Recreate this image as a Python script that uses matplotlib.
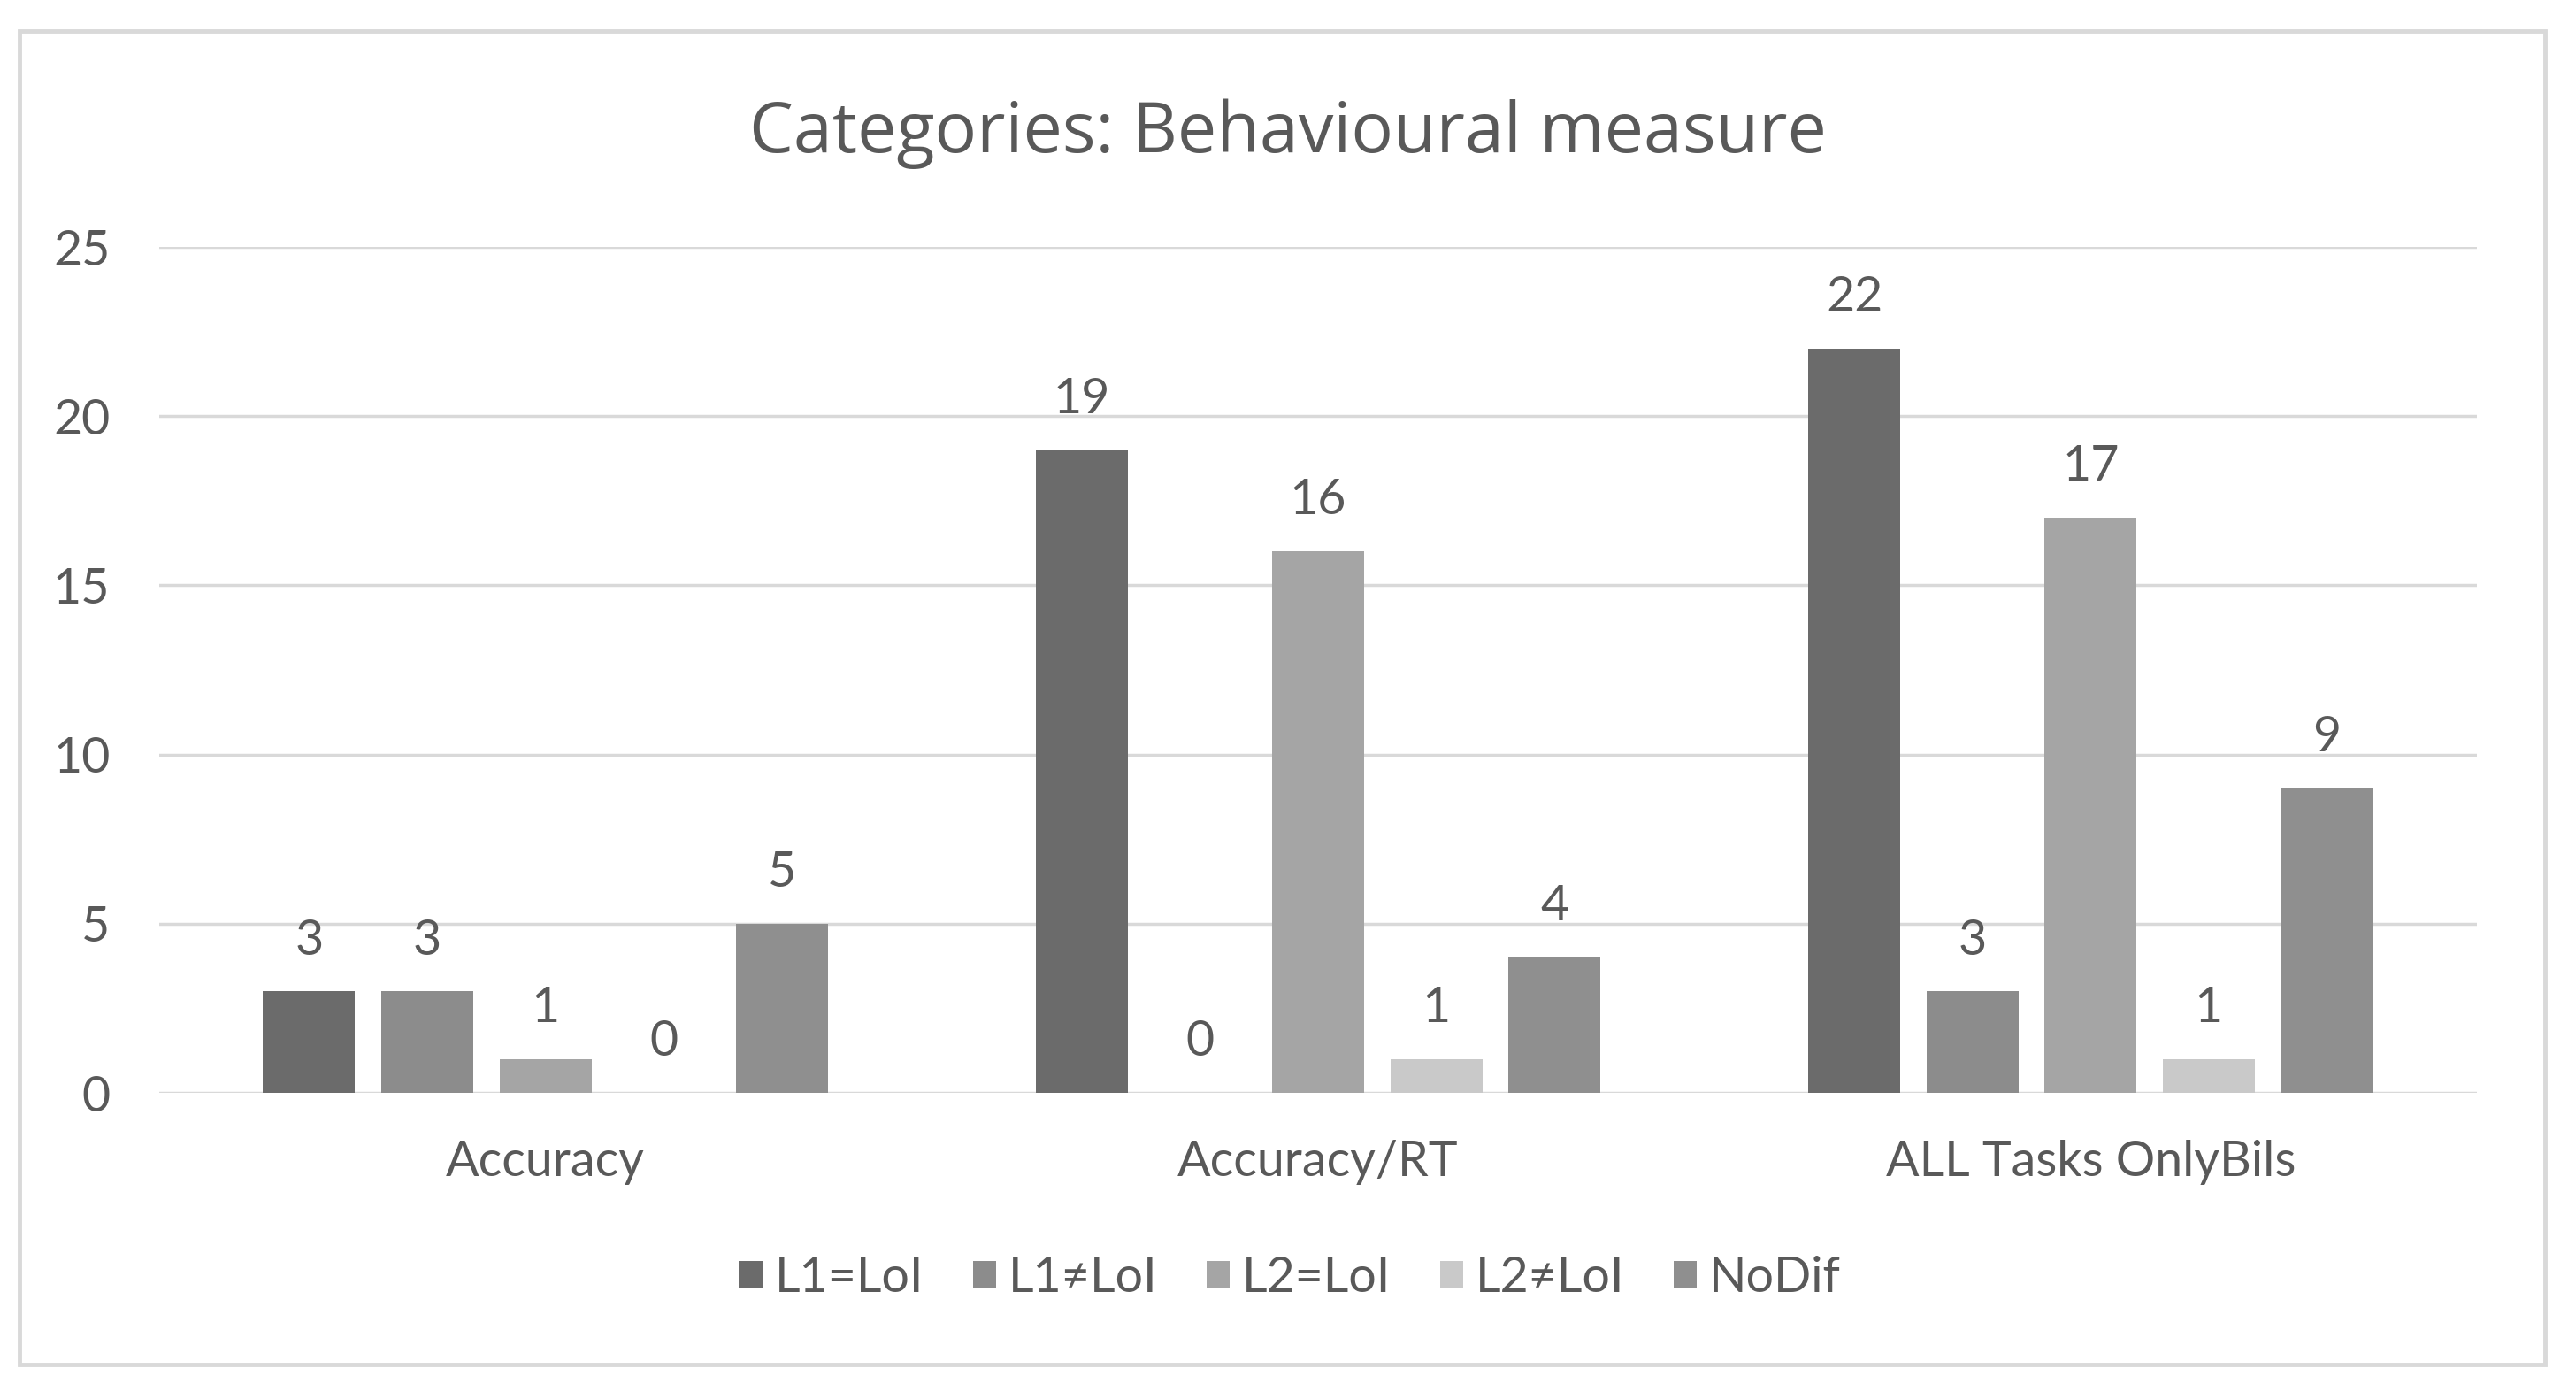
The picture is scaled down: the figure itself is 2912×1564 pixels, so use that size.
import matplotlib
matplotlib.use('Agg')
import matplotlib.pyplot as plt
import numpy as np
from matplotlib.patches import Rectangle

plt.rcParams['font.family'] = ['Lato', 'DejaVu Sans']

# Data
categories = ['Accuracy', 'Accuracy/RT', 'ALL Tasks OnlyBils']
series = ['L1=LoI', 'L1≠LoI', 'L2=LoI', 'L2≠LoI', 'NoDif']
l1_eq = [3, 19, 22]
l1_neq = [3, 0, 3]
l2_eq = [1, 16, 17]
l2_neq = [0, 1, 1]
nodif = [5, 4, 9]
values = [l1_eq, l1_neq, l2_eq, l2_neq, nodif]
colors = ['#6b6b6b', '#8c8c8c', '#a5a5a5', '#c9c9c9', '#8f8f8f']

TEXT = '#595959'
GRID = '#d9d9d9'

fig = plt.figure(figsize=(29.12, 15.64), dpi=100)
fig.patches.append(Rectangle((22/2912, 1 - 1542/1564), 2855/2912, 1507/1564,
                             transform=fig.transFigure, fill=False,
                             edgecolor=GRID, linewidth=3.5, zorder=0))

ax = fig.add_axes([180/2912, 1 - 1235/1564, 2620/2912, 956/1564])

x = np.arange(len(categories))
step = 0.153
width = 0.119
for i, (name, vals, c) in enumerate(zip(series, values, colors)):
    pos = x + (i - 2) * step
    ax.bar(pos, vals, width=width, color=c, label=name, zorder=3)
    for xp, v in zip(pos, vals):
        ax.annotate(str(v), (xp, v), xytext=(0, 30), textcoords='offset points',
                    ha='center', va='baseline', fontsize=40, color=TEXT)

ax.set_xlim(-0.5, 2.5)
ax.set_ylim(0, 25)
ax.set_yticks([0, 5, 10, 15, 20, 25])
ax.grid(axis='y', color=GRID, linewidth=2.5, zorder=0)
ax.set_axisbelow(True)
for s in ax.spines.values():
    s.set_visible(False)
ax.tick_params(axis='both', length=0, labelsize=40, labelcolor=TEXT)
ax.tick_params(axis='y', pad=40)
ax.tick_params(axis='x', pad=38)
ax.set_xticks(x)
ax.set_xticklabels(categories)

fig.text(0.5, 1 - 151/1564, 'Categories: Behavioural measure', ha='center', va='center',
         fontsize=57, color=TEXT, family=['Open Sans', 'DejaVu Sans'])

fig.legend(loc='center', bbox_to_anchor=(1458/2912, 1 - 1445/1564), ncol=5,
           frameon=False, fontsize=40, labelcolor=TEXT, handlelength=0.47,
           handleheight=0.47, handletextpad=0.25, columnspacing=1.0)

fig.savefig('out.png', dpi=100, facecolor='white')
